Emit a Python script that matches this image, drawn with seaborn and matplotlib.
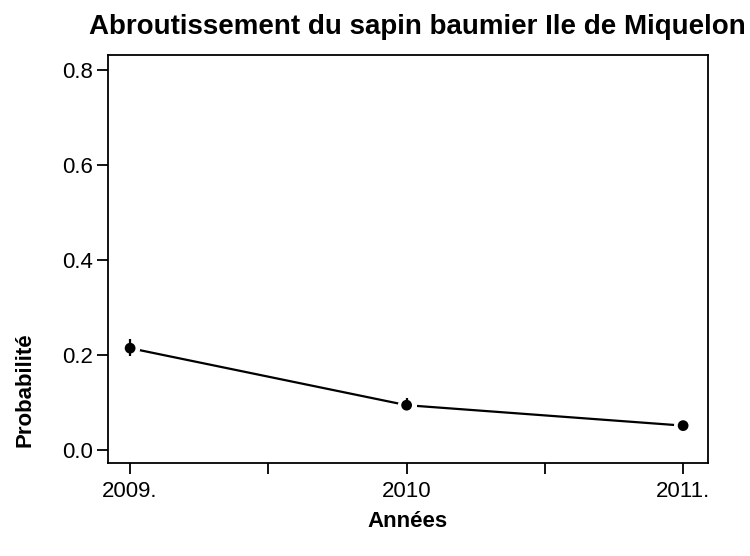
import matplotlib
matplotlib.use("Agg")
import matplotlib.pyplot as plt
import seaborn as sns
import pandas as pd

# values
years = [2009, 2010, 2011]
year_labels = ["2009.", "2010", "2011."]
prob = [0.215, 0.095, 0.052]
err_low = [0.198, 0.086, 0.046]
err_high = [0.234, 0.110, 0.060]
y_ticks = [0.0, 0.2, 0.4, 0.6, 0.8]

sns.set_style("ticks")
plt.rcParams['font.family'] = ['Liberation Sans', 'DejaVu Sans']
for key in ["text.color", "axes.labelcolor", "xtick.color", "ytick.color", "axes.edgecolor"]:
    plt.rcParams[key] = "black"

df = pd.DataFrame({"Années": years, "Probabilité": prob})

fig = plt.figure(figsize=(7.5, 5.56), dpi=100)
ax = fig.add_axes([0.144, 0.167, 0.8, 0.734])

# connecting line, white markers leave small gaps around the points
sns.lineplot(data=df, x="Années", y="Probabilité", color="black", lw=1.6, ax=ax,
             marker="o", markersize=13, markerfacecolor="white",
             markeredgecolor="white", zorder=2)
ax.vlines(years, err_low, err_high, color="black", lw=1.6, zorder=3)
sns.scatterplot(data=df, x="Années", y="Probabilité", color="black", s=60,
                edgecolor="none", ax=ax, zorder=4)

ax.set_xlim(2009 - 0.08, 2011 + 0.09)
ax.set_ylim(-0.027, 0.832)
ax.set_xticks(years)
ax.set_xticklabels(year_labels)
ax.set_xticks([2009.5, 2010.5], minor=True)
ax.set_yticks(y_ticks)
ax.set_yticklabels([f"{v:.1f}" for v in y_ticks])

for s in ax.spines.values():
    s.set_linewidth(1.3)
ax.tick_params(which="both", direction="out", length=8, width=1.3, labelsize=16)
ax.tick_params(axis="x", pad=5)
ax.tick_params(axis="y", pad=3)

ax.set_xlabel("Années", fontsize=16, fontweight="bold", labelpad=6)
ax.set_ylabel("")
fig.text(0.034, 0.30, "Probabilité", rotation=90, fontsize=16, fontweight="bold",
         ha="center", va="center")
fig.text(0.557, 0.939, "Abroutissement du sapin baumier Ile de Miquelon",
         fontsize=20, fontweight="bold", ha="center", va="baseline")

fig.savefig("out.png", dpi=100)
